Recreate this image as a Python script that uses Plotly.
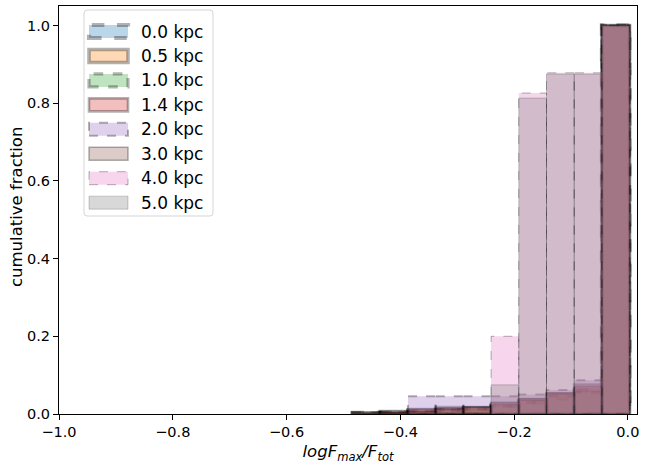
import numpy as np
import plotly.graph_objects as go

# bin edges of the shared histogram bins (log Fmax/Ftot)
bin_edges = [-0.484, -0.4353, -0.3866, -0.3379, -0.2892, -0.2405, -0.1918, -0.1431, -0.0944, -0.0457, 0.003]

labels = ["0.0 kpc", "0.5 kpc", "1.0 kpc", "1.4 kpc", "2.0 kpc", "3.0 kpc", "4.0 kpc", "5.0 kpc"]

# cumulative fractions per bin for each series
cum_00 = [0.003, 0.003, 0.006, 0.010, 0.013, 0.020, 0.030, 0.040, 0.060, 1.0]
cum_05 = [0.003, 0.006, 0.010, 0.013, 0.016, 0.023, 0.036, 0.050, 0.062, 1.0]
cum_10 = [0.003, 0.003, 0.006, 0.010, 0.013, 0.020, 0.030, 0.045, 0.056, 1.0]
cum_14 = [0.003, 0.006, 0.013, 0.018, 0.018, 0.026, 0.036, 0.052, 0.076, 1.0]
cum_20 = [0.0, 0.0, 0.046, 0.046, 0.046, 0.046, 0.050, 0.062, 0.087, 1.0]
cum_30 = [0.0, 0.003, 0.006, 0.013, 0.018, 0.030, 0.040, 0.055, 0.070, 1.0]
cum_40 = [0.0, 0.0, 0.0, 0.0, 0.0, 0.200, 0.826, 0.878, 0.878, 1.0]
cum_50 = [0.0, 0.0, 0.0, 0.0, 0.0, 0.075, 0.813, 0.875, 0.875, 1.0]
series = [cum_00, cum_05, cum_10, cum_14, cum_20, cum_30, cum_40, cum_50]

fill_rgb = [(31, 119, 180), (255, 127, 14), (44, 160, 44), (214, 39, 40),
            (148, 103, 189), (140, 86, 75), (227, 119, 194), (127, 127, 127)]
dashes = ["dash", "solid", "dash", "solid", "dash", "solid", "dash", "solid"]
widths = [4.2, 3.6, 3.2, 2.6, 2.0, 1.5, 1.0, 0.6]
alpha = 0.3

W, H = 660, 468
ML, MR, MT, MB = 59, 23, 6, 54
PW, PH = W - ML - MR, H - MT - MB


def px(x):
    return (x - ML) / PW


def py(y):
    return (H - MB - y) / PH


fig = go.Figure()
for lab, vals, rgb, dash, w in zip(labels, series, fill_rgb, dashes, widths):
    xs, ys = [], []
    for i, v in enumerate(vals):
        if v <= 0:
            continue
        x0, x1 = bin_edges[i], bin_edges[i + 1]
        xs += [x0, x0, x1, x1, x0, None]
        ys += [0, v, v, 0, 0, None]
    fig.add_trace(go.Scatter(
        x=xs, y=ys, mode="lines", fill="toself",
        fillcolor=f"rgba({rgb[0]},{rgb[1]},{rgb[2]},{alpha})",
        line=dict(color=f"rgba(0,0,0,{alpha})", width=w, dash=dash),
        name=lab, hoverinfo="skip", showlegend=False,
    ))

# legend drawn as matplotlib-style box with patch handles
shapes = []
annotations = []
bx0, by0, bx1, by1, r = 84, 10, 213, 216, 3
path = (f"M{px(bx0 + r)},{py(by0)} L{px(bx1 - r)},{py(by0)} Q{px(bx1)},{py(by0)} {px(bx1)},{py(by0 + r)} "
        f"L{px(bx1)},{py(by1 - r)} Q{px(bx1)},{py(by1)} {px(bx1 - r)},{py(by1)} "
        f"L{px(bx0 + r)},{py(by1)} Q{px(bx0)},{py(by1)} {px(bx0)},{py(by1 - r)} "
        f"L{px(bx0)},{py(by0 + r)} Q{px(bx0)},{py(by0)} {px(bx0 + r)},{py(by0)} Z")
shapes.append(dict(type="path", xref="paper", yref="paper", path=path,
                   fillcolor="rgba(255,255,255,0.8)", line=dict(color="#d5d5d5", width=1), layer="above"))
row0, step = 31.5, 24.45
for k, (lab, rgb, dash, w) in enumerate(zip(labels, fill_rgb, dashes, widths)):
    cy = row0 + k * step
    shapes.append(dict(type="rect", xref="paper", yref="paper",
                       x0=px(89), x1=px(128), y0=py(cy + 6.5), y1=py(cy - 6.5),
                       fillcolor=f"rgba({rgb[0]},{rgb[1]},{rgb[2]},{alpha})",
                       line=dict(color=f"rgba(0,0,0,{alpha})", width=w, dash=dash), layer="above"))
    annotations.append(dict(text=lab, xref="paper", yref="paper", x=px(139), y=py(cy),
                            xanchor="left", yanchor="middle", showarrow=False,
                            font=dict(size=17, color="black")))

# y axis title placed like matplotlib's ylabel
annotations.append(dict(text="cumulative fraction", xref="paper", yref="paper",
                        x=px(16), y=py(207), textangle=-90, xanchor="center", yanchor="middle",
                        showarrow=False, font=dict(size=16.5, color="black")))

font = "DejaVu Sans"
fig.update_layout(
    width=W, height=H,
    margin=dict(l=ML, r=MR, t=MT, b=MB),
    paper_bgcolor="white", plot_bgcolor="white",
    font=dict(family=font, size=15, color="black"),
    showlegend=False,
    shapes=shapes, annotations=annotations,
    xaxis=dict(range=[-1.0, 0.016], tickvals=[-1.0, -0.8, -0.6, -0.4, -0.2, 0.0],
               tickformat=".1f", showgrid=False, zeroline=False,
               showline=True, linecolor="black", linewidth=1, mirror=True,
               ticks="outside", ticklen=5, tickcolor="black", tickfont=dict(size=14.5),
               title=dict(text="<i>logF<sub>max</sub>/F<sub>tot</sub></i>", font=dict(size=16.5), standoff=6)),
    yaxis=dict(range=[0, 1.05], tickvals=[0.0, 0.2, 0.4, 0.6, 0.8, 1.0],
               tickformat=".1f", showgrid=False, zeroline=False,
               showline=True, linecolor="black", linewidth=1, mirror=True,
               ticks="outside", ticklen=5, tickcolor="black", tickfont=dict(size=14.5)),
)
fig.write_html("out.html")
